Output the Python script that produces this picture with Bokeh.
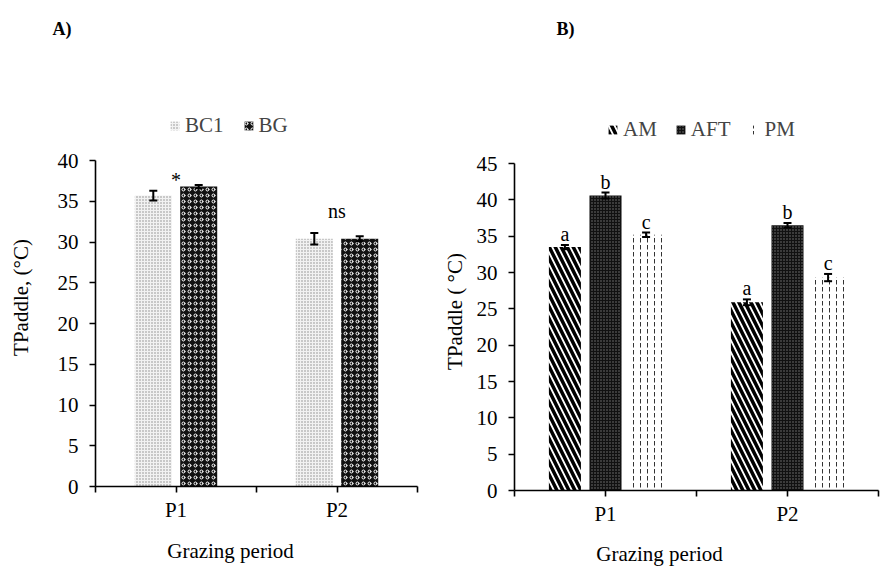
import numpy as np
from bokeh.plotting import figure
from bokeh.layouts import row
from bokeh.models import (ColumnDataSource, Whisker, TeeHead, FixedTicker, Range1d,
                          Legend, LegendItem, Label, LabelSet, LinearAxis)
from bokeh.embed import file_html
from bokeh.resources import INLINE

# ---------------- data ----------------
periods = ["P1", "P2"]

# Panel A
bc1_vals = [35.7, 30.4]
bc1_err = [0.6, 0.7]
bg_vals = [36.8, 30.4]
bg_err = [0.2, 0.3]
sig_a = ["*", "ns"]
yticks_a = [0, 5, 10, 15, 20, 25, 30, 35, 40]

# Panel B
am_vals = [33.5, 25.9]
am_err = [0.3, 0.4]
aft_vals = [40.6, 36.5]
aft_err = [0.4, 0.3]
pm_vals = [35.2, 29.3]
pm_err = [0.3, 0.5]
letters_am = ["a", "a"]
letters_aft = ["b", "b"]
letters_pm = ["c", "c"]
yticks_b = [0, 5, 10, 15, 20, 25, 30, 35, 40, 45]

FONT = "Liberation Serif"
TICK_FS = "21px"
LAB_FS = "21px"
SIG_PAD_PX = [5, 22]     # styling: gap (px) between error bar top and the significance mark
LETTER_PAD_PX = 11       # styling: gap (px) between error bar top and letter centre


class Mapper:
    """pixel (figure coords, y from top) -> data coords"""
    def __init__(self, x0, sx, y0, sy):
        self.x0, self.sx, self.y0, self.sy = x0, sx, y0, sy

    def x(self, px):
        return (px - self.x0) / self.sx

    def y(self, py):
        return (self.y0 - py) / self.sy


def make_fig(W, H, m, ymax, yticks):
    p = figure(width=W, height=H,
               x_range=Range1d(m.x(0), m.x(W)), y_range=Range1d(m.y(H), m.y(0)),
               output_backend="svg", toolbar_location=None,
               x_axis_location=None, y_axis_location=None,
               min_border=0, min_border_left=0, min_border_right=0,
               min_border_top=0, min_border_bottom=0)
    p.outline_line_color = None
    p.xgrid.visible = False
    p.ygrid.visible = False
    p.background_fill_color = "white"
    p.border_fill_color = "white"
    n = len(periods)
    ticks = [i * 0.5 for i in range(2 * n + 1)]
    overrides = {t: "" for t in ticks}
    for i, name in enumerate(periods):
        overrides[i + 0.5] = name
    xax = LinearAxis(ticker=FixedTicker(ticks=ticks), major_label_overrides=overrides,
                     fixed_location=0, bounds=(0, n))
    yax = LinearAxis(ticker=FixedTicker(ticks=yticks), fixed_location=0, bounds=(0, ymax))
    for ax in (xax, yax):
        ax.axis_line_color = "black"
        ax.axis_line_width = 1.6
        ax.major_tick_line_color = "black"
        ax.major_tick_line_width = 1.6
        ax.major_tick_out = 6
        ax.major_tick_in = 0
        ax.minor_tick_line_color = None
        ax.major_label_text_font = FONT
        ax.major_label_text_font_size = TICK_FS
        ax.major_label_text_color = "black"
    xax.major_label_standoff = 5
    yax.major_label_standoff = 11
    p.add_layout(xax, "below")
    p.add_layout(yax, "left")
    return p


def add_whisker(p, xs, vals, errs):
    src = ColumnDataSource(dict(x=xs, upper=[v + e for v, e in zip(vals, errs)],
                                lower=[v - e for v, e in zip(vals, errs)]))
    w = Whisker(base="x", upper="upper", lower="lower", source=src,
                line_color="black", line_width=2, level="overlay",
                upper_head=TeeHead(size=8, line_width=2, line_color="black"),
                lower_head=TeeHead(size=8, line_width=2, line_color="black"))
    p.add_layout(w)


def add_labelset(p, xs, ys, texts, size="20px"):
    src = ColumnDataSource(dict(x=xs, y=ys, t=texts))
    p.add_layout(LabelSet(x="x", y="y", text="t", source=src, level="overlay",
                          text_font=FONT, text_font_size=size, text_color="black",
                          text_align="center", text_baseline="middle"))


def add_label(p, x, y, text, size, bold=False, angle=0.0, align="center"):
    p.add_layout(Label(x=x, y=y, text=text, angle=angle,
                       text_font=FONT, text_font_size=size,
                       text_font_style="bold" if bold else "normal",
                       text_color="black", text_align=align,
                       text_baseline="middle"))


# ---------------- Panel A ----------------
WA, HA = 440, 570
mA = Mapper(95, 322 / 2.0, 486, 326 / 40.0)
pa = make_fig(WA, HA, mA, 40, yticks_a)
pyA = 1.0 / mA.sy

offA, bwA = 0.141, 0.23
xa_bc1 = [i + 0.5 - offA for i in range(len(periods))]
xa_bg = [i + 0.5 + offA for i in range(len(periods))]
r_bc1 = pa.vbar(x=xa_bc1, top=bc1_vals, width=bwA, fill_color="#f2f2f2", line_color=None,
                hatch_pattern="dot", hatch_color="#8a8a8a", hatch_scale=3, hatch_weight=1)
r_bg = pa.vbar(x=xa_bg, top=bg_vals, width=bwA, fill_color="#111111", line_color=None,
               hatch_pattern="ring", hatch_color="white", hatch_scale=6, hatch_weight=1)
add_whisker(pa, xa_bc1, bc1_vals, bc1_err)
add_whisker(pa, xa_bg, bg_vals, bg_err)

sig_y = [max(a + ea, b + eb) + pad * pyA
         for a, ea, b, eb, pad in zip(bc1_vals, bc1_err, bg_vals, bg_err, SIG_PAD_PX)]
add_labelset(pa, [i + 0.5 for i in range(len(periods))], sig_y, sig_a)

legA = Legend(items=[LegendItem(label="BC1", renderers=[r_bc1]),
                     LegendItem(label="BG", renderers=[r_bg])],
              orientation="horizontal", location=(169, HA - 138),
              border_line_color=None, background_fill_alpha=0,
              label_text_font=FONT, label_text_font_size=LAB_FS,
              glyph_width=11, glyph_height=11, spacing=19, label_standoff=5,
              padding=0, margin=0, label_height=20)
pa.add_layout(legA)

add_label(pa, mA.x(52), mA.y(28), "A)", "18px", bold=True, align="left")
add_label(pa, mA.x(20), mA.y(297), "TPaddle, (°C)", "21px", angle=np.pi / 2)
add_label(pa, mA.x(230), mA.y(550), "Grazing period", "21px")

# ---------------- Panel B ----------------
WB, HB = 441, 570
OX = 440  # screen x of panel B's left edge
mB = Mapper(514 - OX, 364 / 2.0, 490, 327 / 45.0)
pb = make_fig(WB, HB, mB, 45, yticks_b)
pyB = 1.0 / mB.sy

offB, bwB = 0.223, 0.176
xb_am = [i + 0.5 - offB for i in range(len(periods))]
xb_aft = [i + 0.5 for i in range(len(periods))]
xb_pm = [i + 0.5 + offB for i in range(len(periods))]
r_am = pb.vbar(x=xb_am, top=am_vals, width=bwB, fill_color="white", line_color=None,
               hatch_pattern="left_diagonal_line", hatch_color="black", hatch_scale=12,
               hatch_weight=3.5)
r_aft = pb.vbar(x=xb_aft, top=aft_vals, width=bwB, fill_color="#111111", line_color=None,
                hatch_pattern="dot", hatch_color="#7a7a7a", hatch_scale=3, hatch_weight=1)
r_pm = pb.vbar(x=xb_pm, top=pm_vals, width=bwB, fill_color="white", line_color=None,
               hatch_pattern="vertical_dash", hatch_color="#333333", hatch_scale=7,
               hatch_weight=1)
add_whisker(pb, xb_am, am_vals, am_err)
add_whisker(pb, xb_aft, aft_vals, aft_err)
add_whisker(pb, xb_pm, pm_vals, pm_err)

for xs, vals, errs, labs in ((xb_am, am_vals, am_err, letters_am),
                             (xb_aft, aft_vals, aft_err, letters_aft),
                             (xb_pm, pm_vals, pm_err, letters_pm)):
    add_labelset(pb, xs, [v + e + LETTER_PAD_PX * pyB for v, e in zip(vals, errs)], labs)

legB = Legend(items=[LegendItem(label="AM", renderers=[r_am]),
                     LegendItem(label="AFT", renderers=[r_aft]),
                     LegendItem(label="PM", renderers=[r_pm])],
              orientation="horizontal", location=(607 - OX, HB - 142),
              border_line_color=None, background_fill_alpha=0,
              label_text_font=FONT, label_text_font_size=LAB_FS,
              glyph_width=11, glyph_height=11, spacing=18, label_standoff=5,
              padding=0, margin=0, label_height=20)
pb.add_layout(legB)

add_label(pb, mB.x(556 - OX), mB.y(28), "B)", "18px", bold=True, align="left")
add_label(pb, mB.x(454 - OX), mB.y(311), "TPaddle ( °C)", "21px", angle=np.pi / 2)
add_label(pb, mB.x(659 - OX), mB.y(553), "Grazing period", "21px")

layout = row(pa, pb, spacing=0)
open("out.html", "w").write(file_html(layout, INLINE))
